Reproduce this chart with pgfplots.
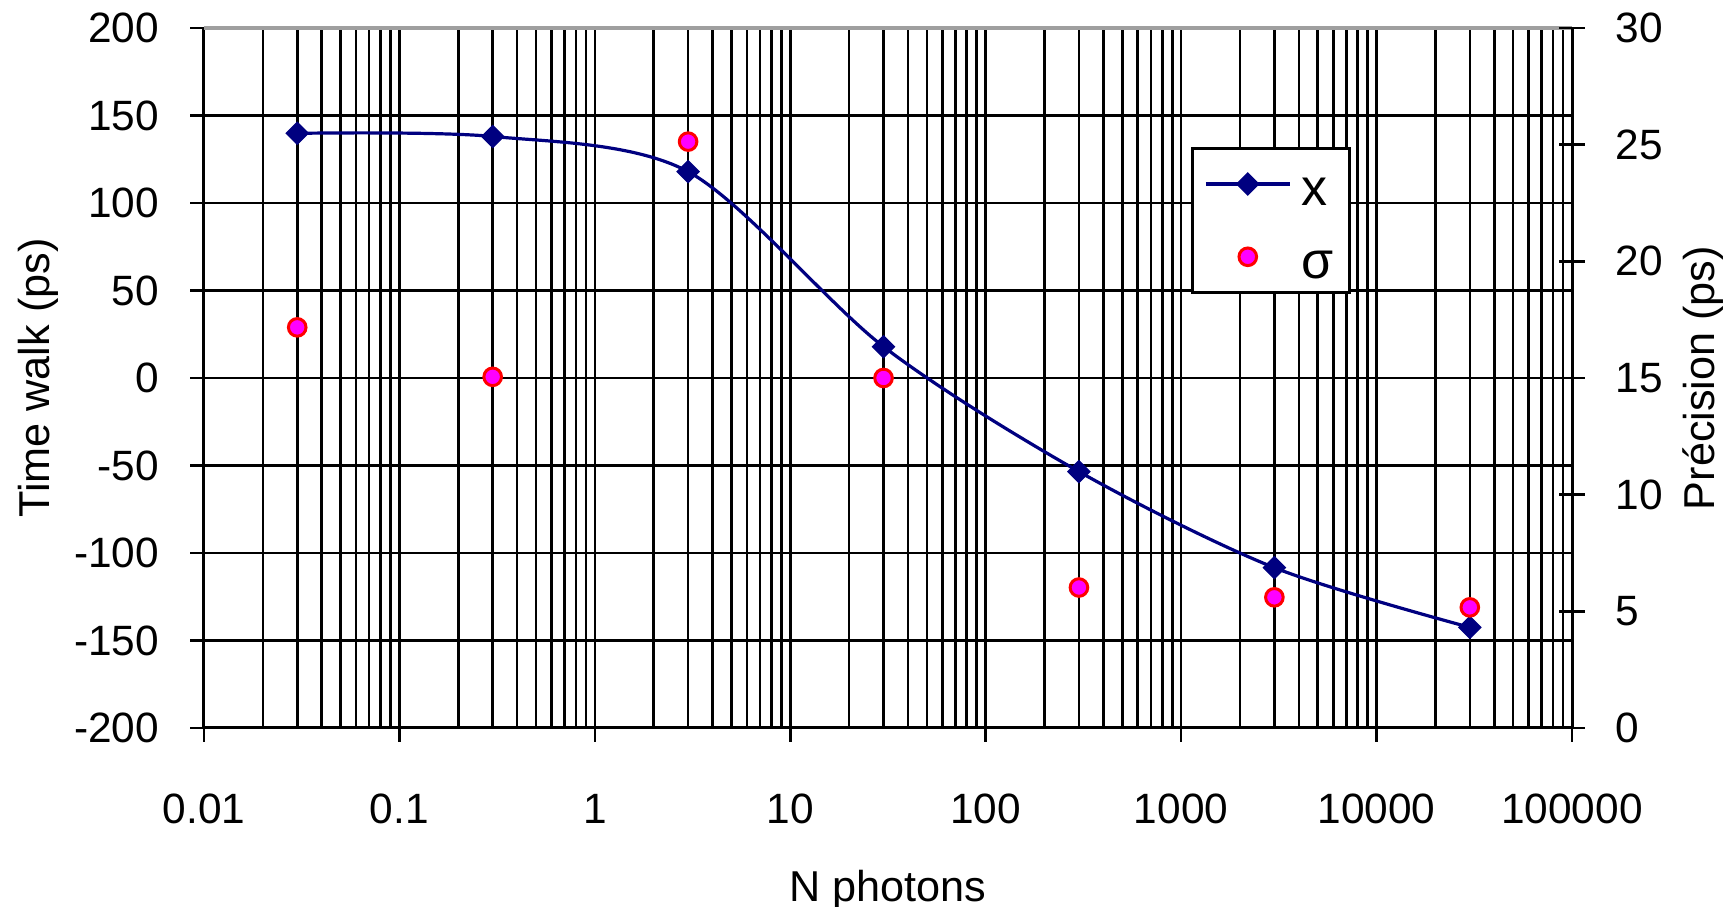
\documentclass[border=0pt]{standalone}
\usepackage{fontspec}
\setmainfont{Liberation Sans}
\usepackage{pgfplots}
\pgfplotsset{compat=1.18}
\definecolor{xnavy}{RGB}{0,0,128}
\definecolor{sigfill}{RGB}{255,0,255}
\definecolor{sigedge}{RGB}{255,0,0}

\begin{document}
\begin{tikzpicture}
\path[use as bounding box] (-51pt,-44.75pt) rectangle (382.75pt,182pt);

% left axis: time walk
\begin{axis}[
    at={(0,0)}, anchor=south west,
    scale only axis, width=342pt, height=175pt,
    xmode=log, xmin=0.01, xmax=100000,
    ymin=-200, ymax=200,
    clip=false,
    xtick={0.01,0.1,1,10,100,1000,10000,100000},
    xticklabels={0.01,0.1,1,10,100,1000,10000,100000},
    ytick={-200,-150,-100,-50,0,50,100,150,200},
    yticklabels={-200,-150,-100,-50,0,50,100,150,200},
    axis x line*=bottom, axis y line*=left,
    axis line style={line width=0.75pt, -},
    xmajorgrids, xminorgrids, ymajorgrids,
    grid style={black, line width=0.65pt},
    minor grid style={black, line width=0.65pt},
    tick align=outside,
    major tick length=3.5pt, minor tick length=0pt,
    tick style={black, line width=0.65pt},
    tick label style={font=\fontsize{10.6}{12}\selectfont},
    xticklabel style={anchor=center, yshift=-16.75pt},
    yticklabel style={anchor=east, xshift=-4.2pt},
    xlabel={N photons},
    xlabel style={at={(axis description cs:0.5,0)}, anchor=base, yshift=-43.3pt, font=\fontsize{10.8}{12}\selectfont},
    ylabel={Time walk (ps)},
    ylabel style={at={(axis description cs:-0.1126,0.5)}, anchor=base, rotate=0, font=\fontsize{10.8}{12}\selectfont},
]
\addplot[xnavy, line width=0.8pt, smooth, mark=square*, mark size=1.95pt,
    mark options={rotate=45, solid, fill=xnavy, draw=xnavy, line width=0.3pt}]
    coordinates {(0.03,139.8) (0.3,138) (3,117.9) (30,17.9) (300,-53.5) (3000,-108.4) (30000,-142.5)};
\draw[gray!75, line width=0.8pt] (rel axis cs:0,1) -- (rel axis cs:1,1);
\end{axis}

% right axis: precision
\begin{axis}[
    at={(0,0)}, anchor=south west,
    scale only axis, width=342pt, height=175pt,
    xmode=log, xmin=0.01, xmax=100000,
    ymin=0, ymax=30,
    axis x line=none, axis y line*=right,
    axis line style={line width=0.75pt, -},
    ytick={0,5,10,15,20,25,30},
    yticklabels={0,5,10,15,20,25,30},
    tick align=center, major tick length=6.5pt,
    tick style={black, line width=0.65pt},
    tick label style={font=\fontsize{10.6}{12}\selectfont},
    yticklabel style={anchor=west, xshift=4.1pt},
    ylabel={Précision (ps)},
    ylabel style={at={(axis description cs:1.1038,0.5)}, anchor=base, rotate=0, font=\fontsize{10.8}{12}\selectfont},
    legend style={at={(axis description cs:0.7215,0.83)}, anchor=north west,
        draw=black, line width=0.8pt, fill=white,
        font=\fontsize{13}{15}\selectfont,
        inner xsep=2.9pt, inner ysep=2.5pt, row sep=5.5pt, column sep=1.6pt,
        nodes={inner sep=1pt, text height=10.7pt, text depth=0pt},
        cells={anchor=west}},
    legend image code/.code={\draw[mark repeat=2,mark phase=2,#1]
        plot coordinates {(0pt,0pt)(10.5pt,0pt)(21pt,0pt)};},
]
\addlegendimage{xnavy, line width=0.8pt, mark=square*, mark size=1.95pt,
    mark options={rotate=45, solid, fill=xnavy, draw=xnavy, line width=0.3pt}}
\addlegendentry{x}
\addplot[only marks, mark=*, mark size=2.2pt, draw=sigedge, fill=sigfill, line width=0.75pt]
    coordinates {(0.03,17.17) (0.3,15.05) (3,25.13) (30,15.0) (300,6.02) (3000,5.6) (30000,5.17)};
\addlegendentry{σ}
\end{axis}
\end{tikzpicture}
\end{document}
